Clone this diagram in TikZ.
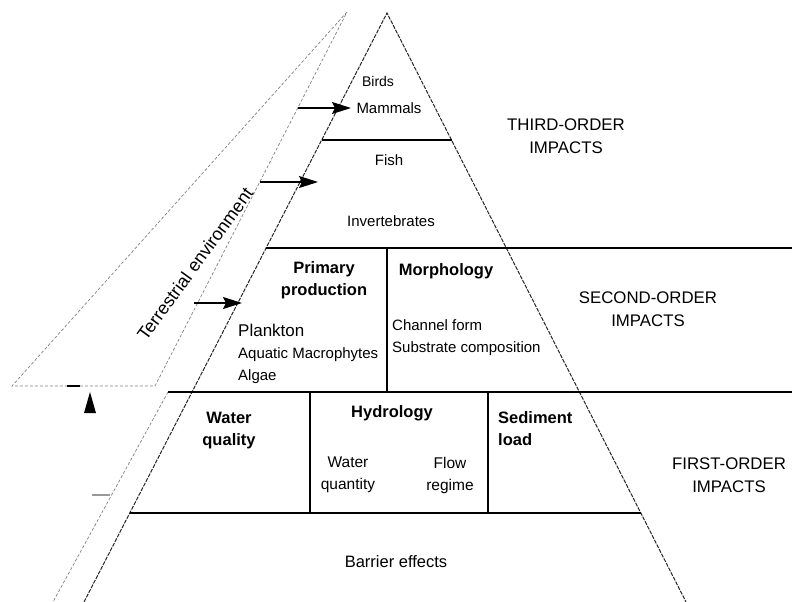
\documentclass[tikz,border=0pt]{standalone}
\usepackage{fontspec}
\setmainfont{Liberation Sans}
\usetikzlibrary{arrows.meta}

\begin{document}
\begin{tikzpicture}[
  x=1pt,y=-1pt,
  txt/.style={inner sep=0pt,font=\fontsize{15}{22}\selectfont},
  hd/.style={inner sep=0pt,align=center,font=\fontsize{16.5}{22}\selectfont\bfseries},
  order/.style={inner sep=0pt,align=center,font=\fontsize{16.8}{23}\selectfont},
  rule/.style={line width=1.4pt},
  side/.style={line width=1pt,black!85,dash pattern=on 4pt off 1.2pt},
  terr/.style={line width=0.7pt,black!50,dash pattern=on 3pt off 2pt},
  feed/.style={line width=1.2pt,-{Stealth[length=19pt,width=12pt,inset=3pt]}}
]
\useasboundingbox (0,0) rectangle (792,602);

% pyramid sides
\coordinate (apex) at (387,13);
\coordinate (bl) at (84,602);
\coordinate (br) at (686,602);
\draw[side] (bl) -- (apex) -- (br);

% terrestrial wedge and its lower strip
\draw[terr] (347,12) -- (12,386) -- (155,386) -- cycle;
\draw[terr] (168,392) -- (53,602);
\draw[line width=1.5pt] (67,386) -- (80,386);
\fill (84,413) -- (90,392) -- (96,413) -- cycle;
\draw[black!40,line width=2pt] (92,495) -- (110,495);

% level boundaries
\draw[rule] (321.7,140) -- (451.5,140);
\draw[rule] (266,248) -- (792,248);
\draw[rule] (168,392) -- (792,392);
\draw[rule] (129.8,513) -- (641,513);
\draw[rule] (387,248) -- (387,392);
\draw[rule] (310,392) -- (310,513);
\draw[rule] (488,392) -- (488,513);

% inputs from the land
\coordinate (t1) at (298,108); \coordinate (p1) at (351,108);
\coordinate (t2) at (260,182); \coordinate (p2) at (318,182);
\coordinate (t3) at (194,303); \coordinate (p3) at (242,303);
\draw[feed] (t1) -- (p1);
\draw[feed] (t2) -- (p2);
\draw[feed] (t3) -- (p3);

% third order
\node[txt,font=\fontsize{14}{16}\selectfont] (birds) at (378,81) {Birds};
\node[txt] (mammals) at (389,108) {Mammals};
\node[txt] (fish) at (389,160) {Fish};
\node[txt] (invert) at (391,221) {Invertebrates};
\node[order] (third) at (566,136.5) {THIRD-ORDER\\IMPACTS};

% second order
\node[hd] (primary) at (324,280) {Primary\\production};
\node[hd] (morph) at (446,271) {Morphology};
\node[txt,align=left,anchor=west] (plankton) at (238,354)
  {{\fontsize{17}{22}\selectfont Plankton}\\Aquatic Macrophytes\\Algae};
\node[txt,align=left,anchor=west] (channel) at (392,338) {Channel form\\Substrate composition};
\node[order] (second) at (648,309) {SECOND-ORDER\\IMPACTS};

% first order
\node[hd] (wqual) at (229,431) {Water\\quality};
\node[hd] (hydro) at (392,413) {Hydrology};
\node[txt,align=center,font=\fontsize{15.5}{22}\selectfont] (wquant) at (348,475) {Water\\quantity};
\node[txt,align=center,font=\fontsize{15.5}{22}\selectfont] (flow) at (450,475) {Flow\\regime};
\node[hd,align=left,anchor=west] (sediment) at (498,429) {Sediment\\load};
\node[order] (first) at (729,475.5) {FIRST-ORDER\\IMPACTS};
\node[txt,font=\fontsize{16.5}{20}\selectfont] (barrier) at (396,562) {Barrier effects};

\node[txt,rotate=54,font=\fontsize{18}{20}\selectfont] (terrlabel) at (195,264) {Terrestrial environment};
\end{tikzpicture}
\end{document}
